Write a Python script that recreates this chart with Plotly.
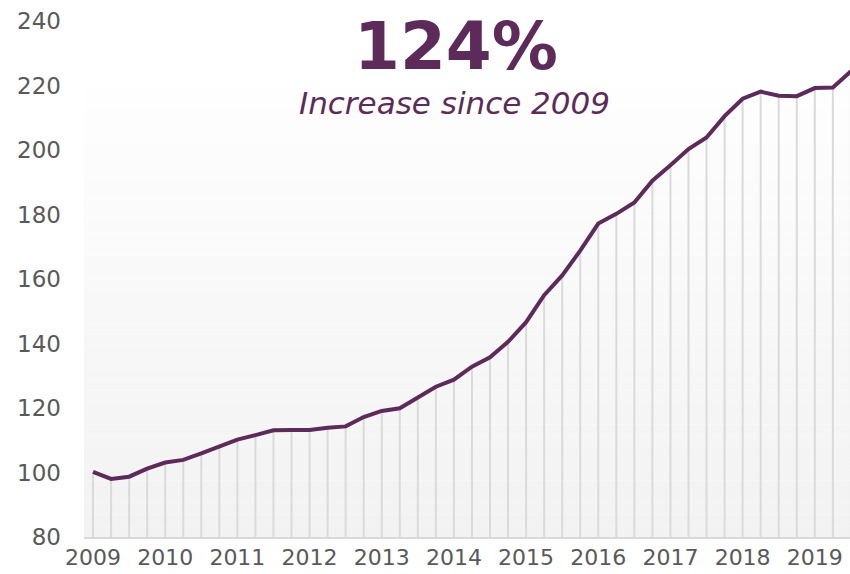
import plotly.graph_objects as go

# Quarterly index values, 2009 Q1 .. 2019 Q3
values = [100.2, 98.0, 98.7, 101.2, 103.1, 103.9, 105.9, 108.2, 110.2, 111.6,
          113.1, 113.2, 113.2, 113.9, 114.3, 117.2, 119.1, 119.9, 123.3, 126.6,
          128.8, 132.8, 135.7, 140.5, 146.6, 155.0, 161.1, 168.8, 177.2, 180.2,
          183.7, 190.5, 195.3, 200.3, 203.9, 210.5, 215.9, 218.1, 216.8, 216.7,
          219.2, 219.4, 224.4]
tick_years = ["2009", "2010", "2011", "2012", "2013", "2014", "2015", "2016",
              "2017", "2018", "2019"]
y_ticks = [80, 100, 120, 140, 160, 180, 200, 220, 240]
headline = "124%"
subhead = "Increase since 2009"

PURPLE = "#5C2B59"
BASE = 80

xs = list(range(len(values)))

# drop lines from each point to the baseline
drop_x, drop_y = [], []
for x, v in zip(xs, values):
    drop_x += [x, x, None]
    drop_y += [BASE, v, None]

fig = go.Figure()
fig.add_trace(go.Scatter(x=drop_x, y=drop_y, mode="lines",
                         line=dict(color="#dadada", width=2),
                         hoverinfo="skip", showlegend=False))
fig.add_trace(go.Scatter(x=xs, y=values, mode="lines",
                         line=dict(color=PURPLE, width=4),
                         showlegend=False))

# gradient background band (white -> light grey)
n = 40
top_val = 219.5
for i in range(n):
    y0 = top_val - (top_val - BASE) * i / n
    y1 = top_val - (top_val - BASE) * (i + 1) / n
    t = (i + 0.5) / n
    c = int(round(254 - (254 - 242) * t))
    fig.add_shape(type="rect", xref="paper", yref="y", x0=0, x1=1,
                  y0=y1, y1=y0, fillcolor=f"rgb({c},{c},{c})",
                  line=dict(width=0), layer="below")

W, H = 850, 574
ml, mr, mt, mb = 84, 0, 20.5, 37.3

def px_x(p):
    return (p - ml) / (W - ml - mr)

def px_y(p):
    return 1 - (p - mt) / (H - mt - mb)

fig.add_annotation(xref="paper", yref="paper", x=px_x(456), y=px_y(70),
                   xanchor="center", yanchor="bottom", yshift=-17,
                   text=f"<b>{headline}</b>", showarrow=False,
                   font=dict(family="DejaVu Sans", size=66, color=PURPLE))
fig.add_annotation(xref="paper", yref="paper", x=px_x(454), y=px_y(103),
                   xanchor="center", yanchor="middle",
                   text=f"<i>{subhead}</i>", showarrow=False,
                   font=dict(family="DejaVu Sans", size=31, color=PURPLE))

fig.update_layout(
    width=W, height=H,
    margin=dict(l=ml, r=mr, t=mt, b=mb),
    paper_bgcolor="white", plot_bgcolor="white",
    font=dict(family="DejaVu Sans", color="#595959", size=22),
    xaxis=dict(range=[-0.5, 41.95], tickmode="array",
               tickvals=[4 * i for i in range(len(tick_years))],
               ticktext=tick_years, showgrid=False, zeroline=False,
               showline=True, linecolor="#d9d9d9", linewidth=2,
               ticks="", tickfont=dict(size=22, color="#595959")),
    yaxis=dict(range=[BASE, 240], tickvals=y_ticks, showgrid=False,
               zeroline=False, showline=False, ticks="",
               ticklabelstandoff=22,
               tickfont=dict(size=23, color="#595959")),
)

fig.write_html("out.html")
